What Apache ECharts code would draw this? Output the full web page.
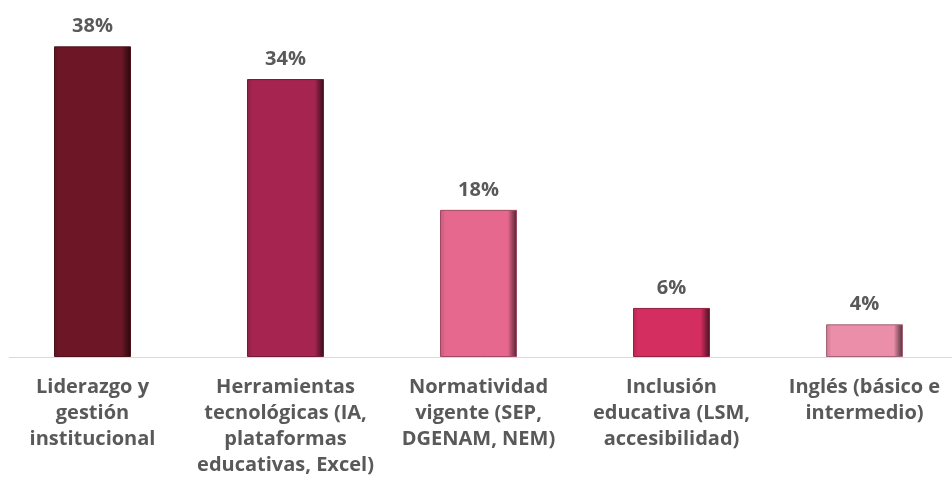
<!DOCTYPE html>
<html>
<head>
<meta charset="utf-8">
<script src="https://cdn.jsdelivr.net/npm/echarts@6/dist/echarts.min.js"></script>
<style>
  html, body { margin: 0; padding: 0; background: #fff; }
  #chart { width: 952px; height: 481px; }
</style>
</head>
<body>
<div id="chart"></div>
<script>
const categories = [
  'Liderazgo y\ngestión\ninstitucional',
  'Herramientas\ntecnológicas (IA,\nplataformas\neducativas, Excel)',
  'Normatividad\nvigente (SEP,\nDGENAM, NEM)',
  'Inclusión\neducativa (LSM,\naccesibilidad)',
  'Inglés (básico e\nintermedio)'
]
const values = [38, 34, 18, 6, 4]
const barColors = ['#6D1726', '#A52550', '#E6688E', '#D42E60', '#EA8EAA']

const chart = echarts.init(document.getElementById('chart'))

// scale rgb channels toward black (f < 1) or white (f > 1)
const shade = (hex, f) => {
  const n = parseInt(hex.slice(1), 16)
  const ch = [(n >> 16) & 255, (n >> 8) & 255, n & 255].map(c =>
    Math.round(f < 1 ? c * f : c + (255 - c) * (f - 1)))
  return 'rgb(' + ch.join(',') + ')'
}

const bevel = (base) => new echarts.graphic.LinearGradient(0, 0, 1, 0, [
  { offset: 0, color: shade(base, 0.85) },
  { offset: 0.07, color: base },
  { offset: 0.88, color: base },
  { offset: 0.95, color: shade(base, 0.6) },
  { offset: 1, color: shade(base, 0.35) }
])

chart.setOption({
  animation: false,
  grid: { left: -4, width: 965, top: 30, bottom: 124, outerBoundsMode: 'none', containLabel: false },
  xAxis: {
    type: 'category',
    data: categories,
    axisLine: { show: false },
    axisTick: { show: false },
    axisLabel: {
      interval: 0,
      margin: 17,
      color: '#595959',
      fontFamily: 'Open Sans',
      fontWeight: 'bold',
      fontSize: 20,
      lineHeight: 26
    }
  },
  yAxis: {
    type: 'value',
    min: 0,
    max: 40,
    show: false,
    splitLine: { show: false }
  },
  graphic: [{
    type: 'line',
    shape: { x1: 9, y1: 357.5, x2: 952, y2: 357.5 },
    style: { stroke: '#D9D9D9', lineWidth: 1 }
  }],
  series: [{
    type: 'bar',
    barWidth: 77,
    data: values.map((v, i) => ({
      value: v,
      itemStyle: {
        color: bevel(barColors[i]),
        borderColor: shade(barColors[i], 0.7),
        borderWidth: 1
      }
    })),
    label: {
      show: true,
      position: 'top',
      distance: 10,
      formatter: '{c}%',
      color: '#595959',
      fontFamily: 'Open Sans',
      fontWeight: 'bold',
      fontSize: 20
    }
  }]
})
</script>
</body>
</html>
